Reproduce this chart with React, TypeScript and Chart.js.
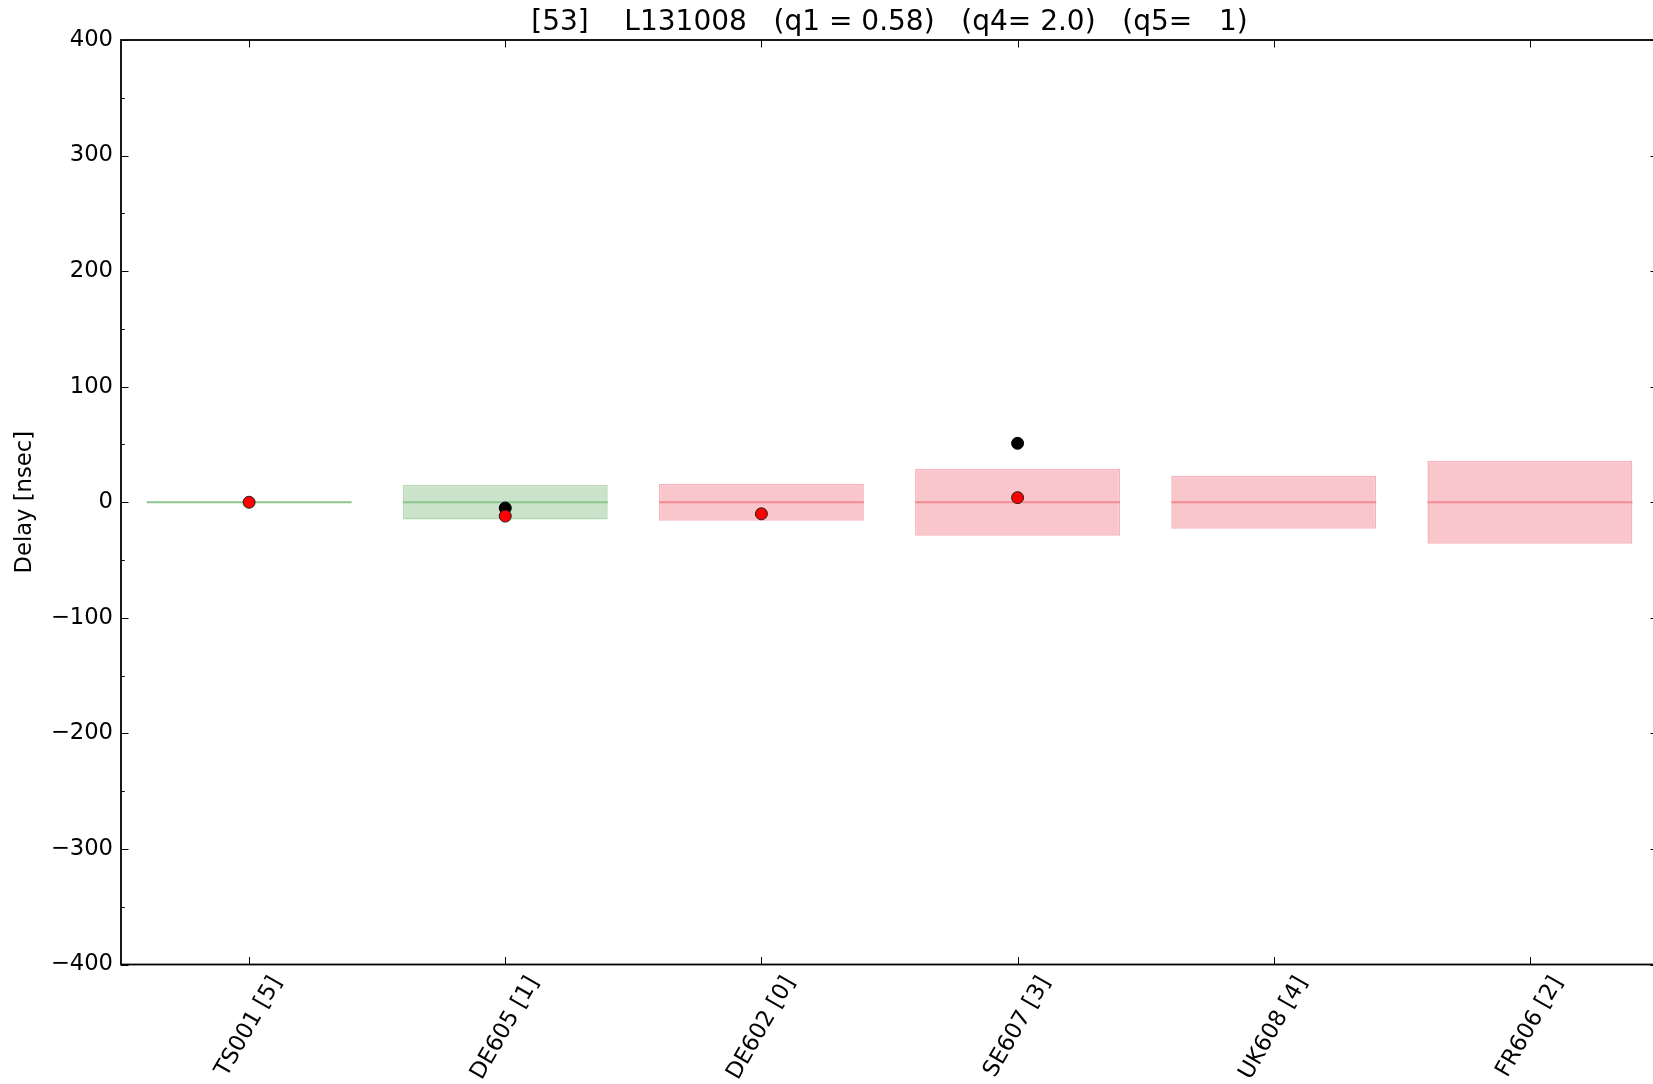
import React, { useEffect, useRef } from 'react';
import { Chart, registerables } from 'chart.js';

Chart.register(...registerables);

// ---- data ----
const titleText = '[53]    L131008   (q1 = 0.58)   (q4= 2.0)   (q5=   1)';
const yAxisLabel = 'Delay [nsec]';
const stations = ['TS001 [5]', 'DE605 [1]', 'DE602 [0]', 'SE607 [3]', 'UK608 [4]', 'FR606 [2]'];
const stationStatus = ['good', 'good', 'bad', 'bad', 'bad', 'bad'];
const centerValues = [0, 0, 0, 0, 0, 0];
const boxLow = [0, -15, -16, -29, -23, -36];
const boxHigh = [0, 15, 16, 29, 23, 36];
const blackDelays: (number | null)[] = [null, -5, null, 51, null, null];
const redDelays: (number | null)[] = [0, -12, -10, 4, null, null];
const yMin = -400;
const yMax = 400;
const yStep = 100;
const yMinorStep = 50;

// ---- styles ----
const boxHalfWidth = 0.4;
const FONT = '"DejaVu Sans", "Liberation Sans", sans-serif';
const FS = 22.7;
const fillColors: Record<string, string> = { good: '#cae3ca', bad: '#f9c6cc' };
const edgeColors: Record<string, string> = { good: '#b4d8b4', bad: '#f6b2ba' };
const lineColors: Record<string, string> = { good: '#8cc68c', bad: '#f28c94' };

const framePlugin = {
  id: 'mplFrame',
  afterDraw(chart: any) {
    const { ctx, chartArea: a, scales } = chart;
    const x = scales.x;
    const y = scales.y;
    ctx.save();
    // ticks (inward)
    ctx.strokeStyle = '#000';
    ctx.lineWidth = 1;
    ctx.beginPath();
    for (let v = yMin; v <= yMax; v += yMinorStep) {
      const py = Math.round(y.getPixelForValue(v)) + 0.5;
      const len = v % yStep === 0 ? 7.5 : 3.7;
      ctx.moveTo(a.left, py);
      ctx.lineTo(a.left + len, py);
      ctx.moveTo(a.right, py);
      ctx.lineTo(a.right - len, py);
    }
    stations.forEach((_, i) => {
      const px = Math.round(x.getPixelForValue(i)) + 0.5;
      ctx.moveTo(px, a.top);
      ctx.lineTo(px, a.top + 7.5);
      ctx.moveTo(px, a.bottom);
      ctx.lineTo(px, a.bottom - 7.5);
    });
    ctx.stroke();
    // spines
    ctx.lineWidth = 1.8;
    ctx.strokeRect(a.left, a.top, a.right - a.left, a.bottom - a.top);

    ctx.fillStyle = '#000';
    // title
    ctx.font = `28px ${FONT}`;
    ctx.textAlign = 'center';
    ctx.textBaseline = 'middle';
    ctx.fillText(titleText, (a.left + a.right) / 2, 23);

    // y axis label
    ctx.font = `${FS}px ${FONT}`;
    ctx.save();
    ctx.translate(25, (a.top + a.bottom) / 2);
    ctx.rotate(-Math.PI / 2);
    ctx.fillText(yAxisLabel, 0, 0);
    ctx.restore();

    // x tick labels rotated 60 deg, bbox centered under tick
    const ang = Math.PI / 3;
    const h = FS * 1.1;
    stations.forEach((s, i) => {
      const w = ctx.measureText(s).width;
      const bh = w * Math.sin(ang) + h * Math.cos(ang);
      const cx = x.getPixelForValue(i);
      const cy = a.bottom + 8 + bh / 2;
      ctx.save();
      ctx.translate(cx, cy);
      ctx.rotate(-ang);
      ctx.fillText(s, 0, 0);
      ctx.restore();
    });
    ctx.restore();
  },
};

export default function App() {
  const ref = useRef<HTMLCanvasElement>(null);

  useEffect(() => {
    const canvas = ref.current;
    if (!canvas) return;

    const barData = stations.map((_, i) => ({ x: i, y: [boxLow[i], boxHigh[i]] }));
    const centerData: any[] = [];
    stations.forEach((_, i) => {
      centerData.push({ x: i - boxHalfWidth, y: centerValues[i] });
      centerData.push({ x: i + boxHalfWidth, y: centerValues[i] });
      centerData.push({ x: i + 0.45, y: null });
    });
    const blackData = blackDelays
      .map((v, i) => (v === null ? null : { x: i, y: v }))
      .filter((p) => p !== null);
    const redData = redDelays
      .map((v, i) => (v === null ? null : { x: i, y: v }))
      .filter((p) => p !== null);

    const chart = new Chart(canvas, {
      type: 'bar',
      data: {
        datasets: [
          {
            type: 'line',
            data: redData as any,
            showLine: false,
            pointRadius: 6,
            pointBackgroundColor: '#ff0000',
            pointBorderColor: '#202020',
            pointBorderWidth: 1,
            order: 1,
          } as any,
          {
            type: 'line',
            data: blackData as any,
            showLine: false,
            pointRadius: 6,
            pointBackgroundColor: '#000000',
            pointBorderColor: '#000000',
            pointBorderWidth: 1,
            order: 2,
          } as any,
          {
            type: 'line',
            data: centerData,
            spanGaps: false,
            borderWidth: 2,
            pointRadius: 0,
            segment: {
              borderColor: (c: any) => lineColors[stationStatus[Math.floor(c.p0DataIndex / 3)]],
            },
            borderColor: lineColors.bad,
            order: 3,
          } as any,
          {
            type: 'bar',
            data: barData as any,
            backgroundColor: stationStatus.map((s) => fillColors[s]),
            borderColor: stationStatus.map((s) => edgeColors[s]),
            borderWidth: 1.5,
            borderSkipped: false,
            categoryPercentage: boxHalfWidth * 2,
            barPercentage: 1,
            order: 4,
          } as any,
        ],
      },
      options: {
        animation: false,
        responsive: false,
        devicePixelRatio: 1,
        events: [],
        layout: { padding: { top: 40, left: 0, right: 42, bottom: 0 } },
        plugins: {
          legend: { display: false },
          title: { display: false },
          tooltip: { enabled: false },
        },
        scales: {
          x: {
            type: 'linear',
            min: -0.5,
            max: stations.length - 0.5,
            offset: false,
            grid: { display: false, drawTicks: false },
            border: { display: false },
            ticks: { display: false },
            afterBuildTicks: (scale: any) => {
              scale.ticks = stations.map((_, i) => ({ value: i }));
            },
            afterFit: (scale: any) => {
              scale.height = 119.5;
            },
          },
          y: {
            type: 'linear',
            min: yMin,
            max: yMax,
            grid: { display: false, drawTicks: false },
            border: { display: false },
            ticks: {
              stepSize: yStep,
              padding: 8,
              color: '#000',
              font: { family: FONT, size: FS },
              callback: (v: any) => (v < 0 ? '\u2212' + Math.abs(v) : String(v)),
            },
            afterFit: (scale: any) => {
              scale.width = 121;
            },
          },
        },
      } as any,
      plugins: [framePlugin],
    });

    return () => chart.destroy();
  }, []);

  return (
    <div
      style={{
        position: 'fixed',
        left: 0,
        top: 0,
        width: 1653,
        height: 1084,
        overflow: 'hidden',
        background: '#fff',
      }}
    >
      <canvas ref={ref} width={1700} height={1084} style={{ display: 'block', width: 1700, height: 1084 }} />
    </div>
  );
}
